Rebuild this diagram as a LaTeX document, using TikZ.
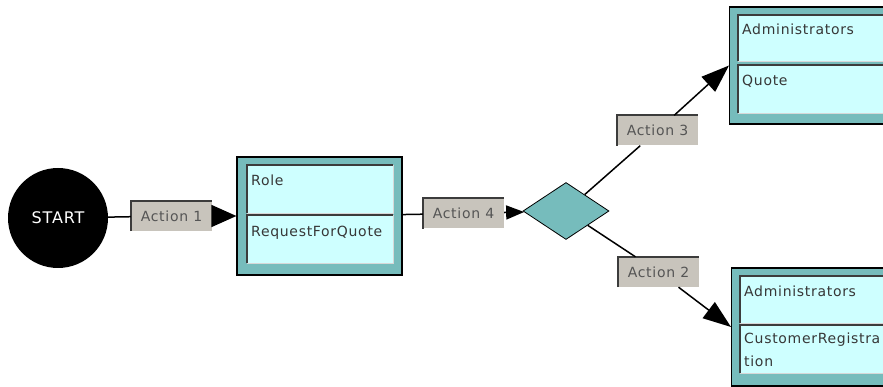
\documentclass[tikz,border=0pt]{standalone}
\usepackage{fontspec}
\newfontfamily\uifont{DejaVu Sans}[LetterSpace=5]
\usetikzlibrary{shapes.geometric,arrows.meta}
\definecolor{boxteal}{RGB}{118,188,188}
\definecolor{compcyan}{RGB}{206,255,255}
\definecolor{labelgray}{RGB}{200,196,188}
\definecolor{edgedark}{RGB}{60,60,60}
\definecolor{edgelight}{RGB}{215,215,215}
\definecolor{textgray}{RGB}{55,55,55}
\begin{document}
\begin{tikzpicture}[x=1pt,y=-1pt,
  txt/.style={font=\uifont\fontsize{14}{16}\selectfont, text=textgray},
  startnode/.style={circle, fill=black, minimum size=100pt, inner sep=0pt,
    text=white, font=\uifont\fontsize{16}{18}\selectfont},
  actlabel/.style={fill=labelgray, minimum width=81pt, minimum height=30pt,
    inner sep=0pt, txt, text=textgray!85},
  outerbox/.style={draw=black, line width=1.2pt, fill=boxteal, inner sep=0pt},
  compart/.style={fill=compcyan, inner sep=0pt, anchor=north west},
  comptext/.style={txt, anchor=base west, inner sep=0pt},
  decision/.style={shape=diamond, draw=black, line width=0.8pt, fill=boxteal,
    minimum width=86pt, minimum height=57pt, inner sep=0pt},
  shadedark/.style={draw=edgedark, line width=2.2pt},
  shadelight/.style={draw=edgelight, line width=1.6pt},
  conn/.style={draw=black, line width=1.5pt},
  bigtip/.style={-{Triangle[length=28pt,width=20pt]}},
  midtip/.style={-{Triangle[length=25pt,width=22pt]}},
  smalltip/.style={-{Triangle[length=18pt,width=14pt]}}
]
\useasboundingbox (0,0) rectangle (883,387);
\clip (0,0) rectangle (883,387);
\fill[white] (0,0) rectangle (883,387);

% start state
\node[startnode] (start) at (58,218) {START};

% first activity: Role / RequestForQuote
\node[outerbox, minimum width=165pt, minimum height=118pt] (role) at (319.5,216) {};
\node[compart, minimum width=146pt, minimum height=48pt] (roleA) at (247,165) {};
\node[compart, minimum width=146pt, minimum height=48pt] (roleB) at (247,215) {};
\node[comptext] (roleAt) at (251,186) {Role};
\node[comptext] (roleBt) at (251,237) {RequestForQuote};

% decision
\node[decision] (dia) at (566,211) {};

% upper target: Administrators / Quote
\node[outerbox, minimum width=180pt, minimum height=117pt, anchor=west] (tr) at (729,65.5) {};
\node[compart, minimum width=170pt, minimum height=46pt] (trA) at (738,15) {};
\node[compart, minimum width=170pt, minimum height=48pt] (trB) at (738,65) {};
\node[comptext] (trAt) at (742,35) {Administrators};
\node[comptext] (trBt) at (742,86) {Quote};

% lower target: Administrators / CustomerRegistration
\node[outerbox, minimum width=180pt, minimum height=118pt, anchor=west] (br) at (731,327) {};
\node[compart, minimum width=170pt, minimum height=47pt] (brA) at (740,276) {};
\node[compart, minimum width=170pt, minimum height=48pt] (brB) at (740,325) {};
\node[comptext] (brAt) at (744,296) {Administrators};
\node[comptext] (brBt) at (744,343) {CustomerRegistra};
\node[comptext] (brCt) at (744,366) {tion};

% sunken edges of the compartments
\foreach \c in {roleA,roleB,trA,trB,brA,brB}{
  \draw[shadelight] (\c.south west) -| (\c.north east);
  \draw[shadedark] (\c.south west) |- (\c.north east);
}

% action labels
\node[actlabel] (a1) at (171.5,216) {Action 1};
\node[actlabel] (a4) at (463.5,213.5) {Action 4};
\node[actlabel] (a3) at (657.5,130.5) {Action 3};
\node[actlabel] (a2) at (658.5,272) {Action 2};
\foreach \c in {a1,a2,a3,a4}{
  \draw[shadedark] (\c.south west) |- (\c.north east);
}

% transitions
\draw[conn] (start) -- (a1);
\draw[conn, midtip] (a1) -- (role);
\draw[conn] (role) -- (a4);
\draw[conn, smalltip] (a4) -- (dia);
\draw[conn] (dia) -- (a3);
\draw[conn, bigtip] (a3) -- (tr.west);
\draw[conn] (dia) -- (a2);
\draw[conn, bigtip] (a2) -- (br.west);
\end{tikzpicture}
\end{document}
